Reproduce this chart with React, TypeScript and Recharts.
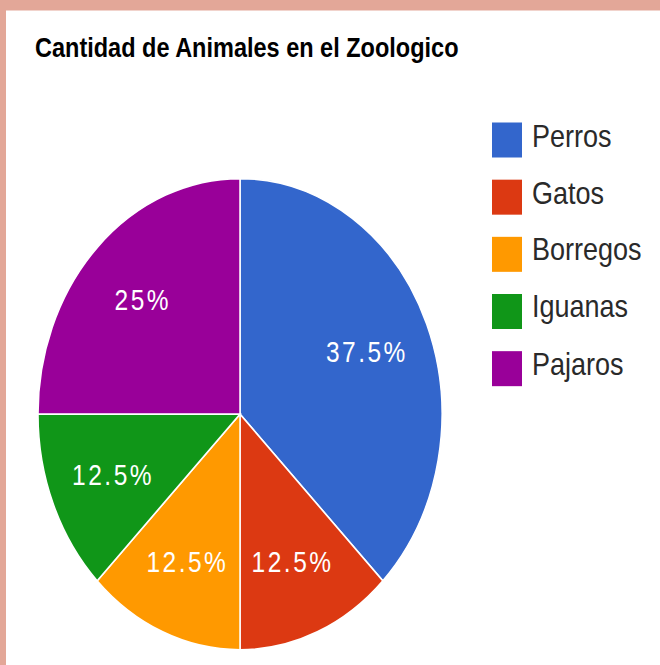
import React from "react";
import { Cell, Legend, Pie, PieChart } from "recharts";

// Cantidad de Animales en el Zoologico
const ANIMALES = ["Perros", "Gatos", "Borregos", "Iguanas", "Pajaros"];
const CANTIDAD = [3, 1, 1, 1, 2];
const COLORES = ["#3366CC", "#DC3912", "#FF9900", "#109618", "#990099"];

const TITULO = "Cantidad de Animales en el Zoologico";
const FUENTE = "Arial, 'Liberation Sans', sans-serif";

// the picture is stretched vertically; draw at base size and stretch
const ESCALA_Y = 665 / 570;

const data = ANIMALES.map((name, i) => ({ name, value: CANTIDAD[i] }));

const RAD = Math.PI / 180;

function renderLabel(props: any) {
  const { cx, cy, midAngle, outerRadius, percent } = props;
  const r = outerRadius * 0.68;
  const x = cx + r * Math.cos(-midAngle * RAD);
  const y = cy + r * Math.sin(-midAngle * RAD);
  const txt = `${Number((percent * 100).toFixed(1))}%`;
  return (
    <text
      x={x}
      y={y}
      fill="#ffffff"
      textAnchor="middle"
      dominantBaseline="central"
      fontFamily={FUENTE}
      fontSize={24.5}
      letterSpacing={2.5}
    >
      {txt}
    </text>
  );
}

function LeyendaLista() {
  return (
    <div style={{ fontFamily: FUENTE }}>
      {ANIMALES.map((name, i) => (
        <div
          key={name}
          style={{
            display: "flex",
            alignItems: "center",
            height: 30,
            marginBottom: 18.8,
          }}
        >
          <span
            style={{
              display: "inline-block",
              width: 30,
              height: 30,
              background: COLORES[i],
              marginRight: 10,
            }}
          />
          <span
            style={{
              fontSize: 27,
              lineHeight: 1,
              color: "#2a2a2a",
              position: "relative",
              top: -3,
            }}
          >
            {name}
          </span>
        </div>
      ))}
    </div>
  );
}

export default function App() {
  return (
    <div
      style={{
        position: "absolute",
        left: 0,
        top: 0,
        width: 660,
        height: 570,
        background: "#E3A798",
        transform: `scaleY(${ESCALA_Y})`,
        transformOrigin: "0 0",
        overflow: "hidden",
      }}
    >
      <div
        style={{
          position: "absolute",
          left: 6,
          top: 8.6,
          right: 0,
          bottom: 0,
          background: "#ffffff",
        }}
      />
      <div
        style={{
          position: "absolute",
          left: 35,
          top: 29.8,
          fontFamily: FUENTE,
          fontWeight: "bold",
          fontSize: 23.5,
          lineHeight: 1,
          color: "#000",
          whiteSpace: "nowrap",
        }}
      >
        {TITULO}
      </div>
      <div style={{ position: "absolute", left: 0, top: 0 }}>
        <PieChart width={660} height={570} margin={{ top: 0, right: 0, bottom: 0, left: 0 }}>
          <Pie
            data={data}
            dataKey="value"
            nameKey="name"
            cx={240}
            cy={355}
            outerRadius={202}
            startAngle={90}
            endAngle={-270}
            stroke="#ffffff"
            strokeWidth={1.5}
            label={renderLabel}
            labelLine={false}
            isAnimationActive={false}
          >
            {data.map((d, i) => (
              <Cell key={d.name} fill={COLORES[i]} />
            ))}
          </Pie>
          <Legend
            layout="vertical"
            align="right"
            verticalAlign="top"
            content={() => <LeyendaLista />}
            wrapperStyle={{ position: "absolute", left: 492, top: 105.4, width: 160 }}
          />
        </PieChart>
      </div>
    </div>
  );
}
